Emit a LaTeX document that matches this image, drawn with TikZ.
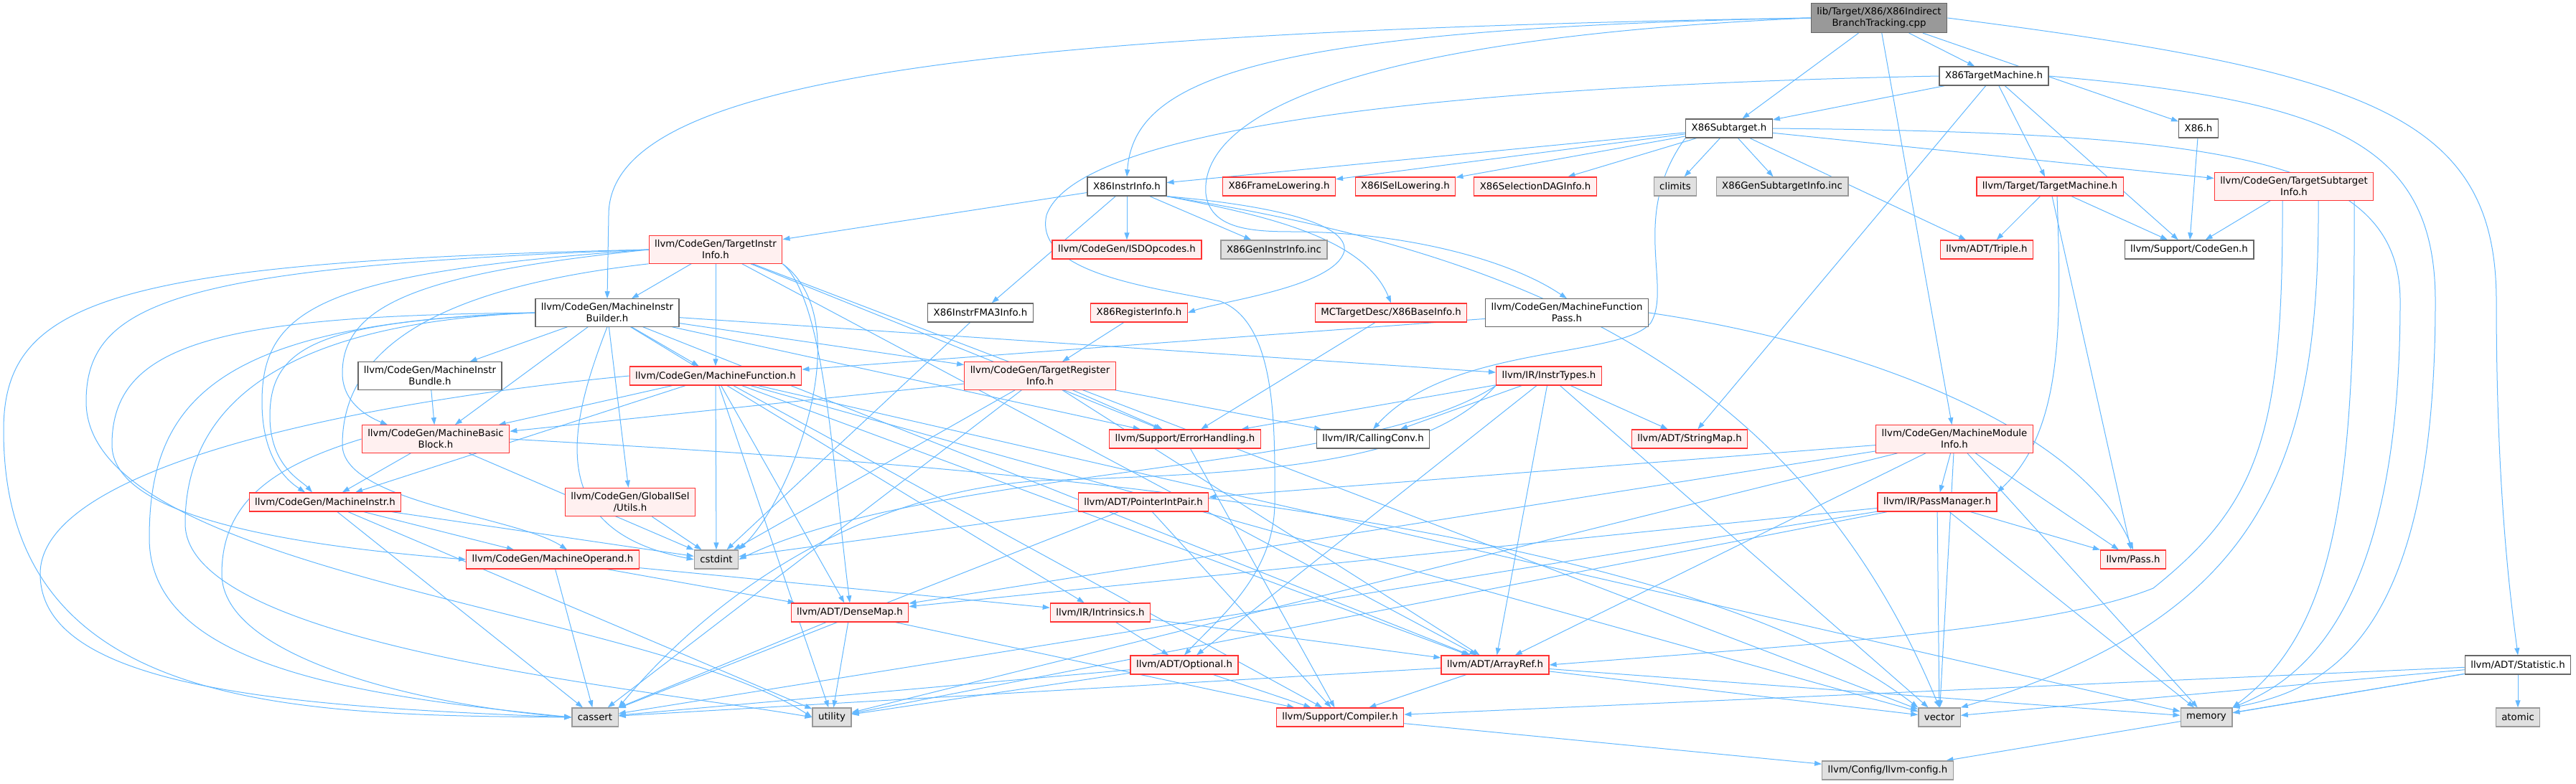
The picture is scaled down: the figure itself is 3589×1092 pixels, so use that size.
\documentclass[tikz,border=0pt]{standalone}
\usepackage{fontspec}
\setmainfont{DejaVu Sans}
\usepackage{xcolor}
\usepackage{tikz}
\usetikzlibrary{arrows.meta, backgrounds}

\definecolor{edgeblue}{HTML}{63B8FF}
\definecolor{truncred}{HTML}{FF3333}
\definecolor{truncfill}{HTML}{FFF0F0}
\definecolor{extfill}{HTML}{E0E0E0}
\definecolor{extline}{HTML}{999999}
\definecolor{rootfill}{HTML}{999999}
\definecolor{hdrline}{HTML}{666666}

\begin{document}
\begin{tikzpicture}[
  x=1pt, y=-1pt,
  file/.style={draw, line width=1.3pt, font=\fontsize{13.33}{16}\selectfont,
               align=center, inner xsep=8pt, inner ysep=6pt, minimum height=26pt},
  srcfile/.style={file, fill=rootfill, draw=hdrline},
  hdr/.style={file, fill=white, draw=hdrline},
  sys/.style={file, fill=extfill, draw=extline},
  trunc/.style={file, fill=truncfill, draw=truncred},
  dep/.style={-{Triangle[length=10pt,width=7pt]}, draw=edgeblue, line width=1pt}
]
  \useasboundingbox (0,0) rectangle (3589,1092);

  % files
  \node[srcfile] (root) at (2618,25) {lib/Target/X86/X86Indirect\\BranchTracking.cpp};
  \node[hdr]   (x86tm)    at (2778,106) {X86TargetMachine.h};
  \node[hdr]   (x86st)    at (2409,179) {X86Subtarget.h};
  \node[hdr]   (x86h)     at (3063,179) {X86.h};
  \node[hdr]   (iinfo)    at (1570,260) {X86InstrInfo.h};
  \node[trunc] (framelow) at (1782,260) {X86FrameLowering.h};
  \node[trunc] (isellow)  at (1958,260) {X86ISelLowering.h};
  \node[trunc] (seldag)   at (2139,260) {X86SelectionDAGInfo.h};
  \node[sys]   (climits)  at (2334,260) {climits};
  \node[sys]   (gensti)   at (2483,260) {X86GenSubtargetInfo.inc};
  \node[trunc] (tmach)    at (2856,260) {llvm/Target/TargetMachine.h};
  \node[trunc] (tsi)      at (3196,260) {llvm/CodeGen/TargetSubtarget\\Info.h};
  \node[trunc] (tii)      at (997,348)  {llvm/CodeGen/TargetInstr\\Info.h};
  \node[trunc] (isd)      at (1570,348) {llvm/CodeGen/ISDOpcodes.h};
  \node[sys]   (geninstr) at (1775,348) {X86GenInstrInfo.inc};
  \node[trunc] (triple)   at (2768,348) {llvm/ADT/Triple.h};
  \node[hdr]   (cgen)     at (3050,348) {llvm/Support/CodeGen.h};
  \node[hdr]   (mib)      at (846,436)  {llvm/CodeGen/MachineInstr\\Builder.h};
  \node[hdr]   (fma3)     at (1366,436) {X86InstrFMA3Info.h};
  \node[trunc] (reginfo)  at (1587,436) {X86RegisterInfo.h};
  \node[trunc] (baseinfo) at (1938,436) {MCTargetDesc/X86BaseInfo.h};
  \node[hdr]   (mfp)      at (2183,436) {llvm/CodeGen/MachineFunction\\Pass.h};
  \node[hdr]   (bundle)   at (599,524)  {llvm/CodeGen/MachineInstr\\Bundle.h};
  \node[trunc] (mfunc)    at (997,524)  {llvm/CodeGen/MachineFunction.h};
  \node[trunc] (tri)      at (1449,524) {llvm/CodeGen/TargetRegister\\Info.h};
  \node[trunc] (itypes)   at (2158,524) {llvm/IR/InstrTypes.h};
  \node[trunc] (mbb)      at (607,612)  {llvm/CodeGen/MachineBasic\\Block.h};
  \node[trunc] (errh)     at (1651,612) {llvm/Support/ErrorHandling.h};
  \node[hdr]   (callconv) at (1913,612) {llvm/IR/CallingConv.h};
  \node[trunc] (strmap)   at (2354,612) {llvm/ADT/StringMap.h};
  \node[trunc] (mmi)      at (2723,612) {llvm/CodeGen/MachineModule\\Info.h};
  \node[trunc] (minstr)   at (453,700)  {llvm/CodeGen/MachineInstr.h};
  \node[trunc] (gisel)    at (878,700)  {llvm/CodeGen/GlobalISel\\/Utils.h};
  \node[trunc] (pip)      at (1593,700) {llvm/ADT/PointerIntPair.h};
  \node[trunc] (passmgr)  at (2699,700) {llvm/IR/PassManager.h};
  \node[trunc] (mop)      at (770,780)  {llvm/CodeGen/MachineOperand.h};
  \node[sys]   (cstdint)  at (998,780)  {cstdint};
  \node[trunc] (passh)    at (2972,780) {llvm/Pass.h};
  \node[trunc] (densemap) at (1184,854) {llvm/ADT/DenseMap.h};
  \node[trunc] (intrin)   at (1533,854) {llvm/IR/Intrinsics.h};
  \node[trunc] (optional) at (1650,927) {llvm/ADT/Optional.h};
  \node[trunc] (arrayref) at (2083,927) {llvm/ADT/ArrayRef.h};
  \node[hdr]   (stat)     at (3508,927) {llvm/ADT/Statistic.h};
  \node[sys]   (cassert)  at (829,1000) {cassert};
  \node[sys]   (utility)  at (1159,1000) {utility};
  \node[trunc] (compiler) at (1867,1000) {llvm/Support/Compiler.h};
  \node[sys]   (vector)   at (2702,1000) {vector};
  \node[sys]   (memory)   at (3074,1000) {memory};
  \node[sys]   (atomic)   at (3508,1000) {atomic};
  \node[sys]   (llvmcfg)  at (2630,1074) {llvm/Config/llvm-config.h};

  \begin{scope}[on background layer]
  % source file
  \draw[dep] (root) -- (x86h);
  \draw[dep] (root) -- (x86st);
  \draw[dep] (root) -- (x86tm);
  \draw[dep] (root) -- (mmi);
  \draw[dep] (root.west) .. controls (1750,40) and (1580,110) .. (iinfo.north);
  \draw[dep] (root.west) .. controls (1300,45) and (848,120) .. (848,300) -- (mib.north);
  \draw[dep] (root.west) .. controls (1850,55) and (1672,170) .. (1680,270)
             .. controls (1686,318) and (1740,323) .. (1800,323)
             .. controls (1950,323) and (2100,360) .. (mfp.north);
  \draw[dep] (root.east) .. controls (3300,100) and (3478,160) .. (3478,420)
             .. controls (3478,700) and (3500,850) .. (stat.north);

  % X86 target headers
  \draw[dep] (x86tm) -- (x86st);
  \draw[dep] (x86tm) -- (strmap);
  \draw[dep] (x86tm) -- (tmach);
  \draw[dep] (x86tm) -- (cgen);
  \draw[dep] (x86tm.west) .. controls (2000,120) and (1500,180) .. (1458,300)
             .. controls (1440,380) and (1600,400) .. (1700,420)
             .. controls (1780,450) and (1776,600) .. (1776,700)
             .. controls (1776,800) and (1700,860) .. (optional.north);
  \draw[dep] (x86tm.east) .. controls (3250,140) and (3393,200) .. (3393,420)
             .. controls (3393,880) and (3250,960) .. (memory.north east);
  \draw[dep] (x86st) -- (iinfo);
  \draw[dep] (x86st) -- (framelow);
  \draw[dep] (x86st) -- (isellow);
  \draw[dep] (x86st) -- (seldag);
  \draw[dep] (x86st) -- (climits);
  \draw[dep] (x86st) -- (gensti);
  \draw[dep] (x86st) -- (triple);
  \draw[dep] (x86st) -- (tsi);
  \draw[dep] (x86st.south west) .. controls (2270,300) and (2330,400) .. (2300,450)
             .. controls (2260,500) and (2020,480) .. (callconv.north);
  \draw[dep] (x86st.east) .. controls (3100,185) and (3344,220) .. (3344,420)
             .. controls (3344,860) and (3200,950) .. (memory.north east);
  \draw[dep] (x86h) -- (cgen);
  \draw[dep] (iinfo) -- (tii);
  \draw[dep] (iinfo) -- (fma3);
  \draw[dep] (iinfo) -- (isd);
  \draw[dep] (iinfo) -- (geninstr);
  \draw[dep] (iinfo.south east) .. controls (1760,300) and (1900,330) .. (baseinfo.north);
  \draw[dep] (iinfo.south east) .. controls (1700,280) and (1880,300) .. (1873,350)
             .. controls (1860,400) and (1700,420) .. (reginfo.east);
  \draw[dep] (iinfo.south east) .. controls (2100,350) and (2500,500) .. (vector.north);
  \draw[dep] (tmach) -- (triple);
  \draw[dep] (tmach) -- (cgen);
  \draw[dep] (tmach) -- (passh);
  \draw[dep] ([xshift=10pt]tmach.south) .. controls (2872,450) and (2875,600) .. (passmgr.north east);
  \draw[dep] (tsi) -- (cgen);
  \draw[dep] ([xshift=-16pt]tsi.south) .. controls (3181,600) and (3150,700) .. (3000,820)
             .. controls (2850,880) and (2500,900) .. (arrayref.east);
  \draw[dep] ([xshift=34pt]tsi.south) .. controls (3232,650) and (3150,860) .. (vector.north east);
  \draw[dep] ([xshift=84pt]tsi.south) .. controls (3282,700) and (3250,880) .. (memory.north east);
  \draw[dep] (fma3) -- (cstdint);
  \draw[dep] (reginfo) -- (tri);
  \draw[dep] (baseinfo) -- (errh);
  \draw[dep] (mfp) -- (mfunc);
  \draw[dep] (mfp.east) .. controls (2600,480) and (2900,600) .. (passh.north);

  % TargetInstrInfo.h
  \draw[dep] (tii) -- (mib);
  \draw[dep] (tii) -- (mfunc);
  \draw[dep] (tii) -- (errh);
  \draw[dep] (tii) -- (arrayref);
  \draw[dep] (tii) -- (vector);
  \draw[dep] (tii.south east) .. controls (1150,420) and (1160,650) .. (densemap.north);
  \draw[dep] (tii.south east) .. controls (1200,450) and (1100,700) .. (cstdint.north east);
  \draw[dep] (tii.west) .. controls (600,380) and (477,420) .. (477,520)
             .. controls (477,560) and (510,580) .. ([xshift=-67pt]mbb.north);
  \draw[dep] (tii.west) .. controls (450,380) and (365,430) .. (365,560)
             .. controls (365,640) and (400,670) .. ([xshift=-28pt]minstr.north);
  \draw[dep] (tii.south west) .. controls (620,400) and (477,480) .. (477,620)
             .. controls (477,700) and (720,720) .. ([xshift=20pt]mop.north);
  \draw[dep] (tii.west) .. controls (150,365) and (5,420) .. (5,600)
             .. controls (5,990) and (400,997) .. (cassert.west);
  \draw[dep] (tii.west) .. controls (250,372) and (120,420) .. (120,560)
             .. controls (120,800) and (900,850) .. (utility.west);

  % MachineInstrBuilder.h
  \draw[dep] (mib) -- (bundle);
  \draw[dep] (mib) -- (mfunc);
  \draw[dep] (mib) -- (mbb);
  \draw[dep] (mib) -- (gisel);
  \draw[dep] (mib) -- (tri);
  \draw[dep] (mib) -- (itypes);
  \draw[dep] (mib) -- (intrin);
  \draw[dep] (mib) -- (errh);
  \draw[dep] (mib) -- (arrayref);
  \draw[dep] (mib.west) .. controls (450,448) and (376,480) .. (376,580)
             .. controls (376,650) and (420,670) .. ([xshift=-18pt]minstr.north);
  \draw[dep] (mib.west) .. controls (300,440) and (156,480) .. (156,620)
             .. controls (156,720) and (400,760) .. (mop.west);
  \draw[dep] (mib.west) .. controls (300,450) and (208,560) .. (208,750)
             .. controls (208,930) and (500,970) .. (cassert.west);
  \draw[dep] (mib.west) .. controls (400,450) and (258,560) .. (258,730)
             .. controls (258,900) and (900,960) .. (utility.west);
  \draw[dep] (mib.south) .. controls (790,600) and (760,740) .. (cstdint.west);

  % MachineFunction.h
  \draw[dep] (mfunc) -- (mbb);
  \draw[dep] (mfunc) -- (minstr);
  \draw[dep] (mfunc) -- (arrayref);
  \draw[dep] (mfunc) -- (densemap);
  \draw[dep] (mfunc) -- (compiler);
  \draw[dep] (mfunc) -- (cstdint);
  \draw[dep] (mfunc) -- (utility);
  \draw[dep] (mfunc) -- (memory);
  \draw[dep] (mfunc) -- (vector);
  \draw[dep] (mfunc.west) .. controls (500,560) and (56,650) .. (56,800)
             .. controls (56,960) and (400,985) .. (cassert.west);

  % TargetRegisterInfo.h, InstrTypes.h
  \draw[dep] (tri) -- (mbb);
  \draw[dep] (tri) -- (callconv);
  \draw[dep] (tri) -- (errh);
  \draw[dep] (tri) -- (arrayref);
  \draw[dep] (tri) -- (cassert);
  \draw[dep] (tri) -- (cstdint);
  \draw[dep] (itypes) -- (errh);
  \draw[dep] (itypes) -- (callconv);
  \draw[dep] (itypes) -- (strmap);
  \draw[dep] (itypes) -- (optional);
  \draw[dep] (itypes) -- (arrayref);
  \draw[dep] (itypes) -- (vector);
  \draw[dep] (itypes.south west) .. controls (1980,650) and (1750,660) .. (1450,670)
             .. controls (1150,690) and (950,880) .. (cassert.north east);
  \draw[dep] (itypes.south west) .. controls (1900,660) and (1300,650) .. (cstdint.east);

  % MachineBasicBlock.h, MachineInstrBundle.h
  \draw[dep] (bundle) -- (mbb);
  \draw[dep] (mbb) -- (minstr);
  \draw[dep] (mbb) -- (cstdint);
  \draw[dep] (mbb.east) .. controls (1200,640) and (2300,700) .. (vector.north west);
  \draw[dep] (mbb.west) .. controls (380,650) and (309,700) .. (309,800)
             .. controls (309,920) and (600,985) .. (cassert.west);

  % MachineModuleInfo.h
  \draw[dep] (mmi) -- (pip);
  \draw[dep] (mmi) -- (densemap);
  \draw[dep] (mmi) -- (passmgr);
  \draw[dep] (mmi) -- (passh);
  \draw[dep] (mmi) -- (arrayref);
  \draw[dep] (mmi) -- (memory);
  \draw[dep] (mmi) -- (utility);
  \draw[dep] (mmi) -- (vector);

  % lower layers
  \draw[dep] (minstr) -- (mop);
  \draw[dep] (minstr) -- (cassert);
  \draw[dep] (minstr) -- (cstdint);
  \draw[dep] (minstr) -- (utility);
  \draw[dep] (gisel) -- (cstdint);
  \draw[dep] (pip) -- (compiler);
  \draw[dep] (pip) -- (cassert);
  \draw[dep] (pip) -- (cstdint);
  \draw[dep] (passmgr) -- (densemap);
  \draw[dep] (passmgr) -- (passh);
  \draw[dep] (passmgr) -- (cassert);
  \draw[dep] (passmgr) -- (memory);
  \draw[dep] (passmgr) -- (utility);
  \draw[dep] (passmgr) -- (vector);
  \draw[dep] (mop) -- (densemap);
  \draw[dep] (mop) -- (intrin);
  \draw[dep] (mop) -- (cassert);
  \draw[dep] (densemap) -- (compiler);
  \draw[dep] (densemap) -- (cassert);
  \draw[dep] (densemap) -- (utility);
  \draw[dep] (intrin) -- (optional);
  \draw[dep] (intrin) -- (arrayref);
  \draw[dep] (optional) -- (compiler);
  \draw[dep] (optional) -- (cassert);
  \draw[dep] (optional) -- (utility);
  \draw[dep] (arrayref) -- (compiler);
  \draw[dep] (arrayref) -- (cassert);
  \draw[dep] (arrayref) -- (memory);
  \draw[dep] (arrayref) -- (vector);
  \draw[dep] (errh) -- (compiler);
  \draw[dep] (compiler) -- (llvmcfg);
  \draw[dep] (stat) -- (compiler);
  \draw[dep] (stat) -- (vector);
  \draw[dep] (stat) -- (memory);
  \draw[dep] (stat) -- (llvmcfg);
  \draw[dep] (stat) -- (atomic);
  \end{scope}
\end{tikzpicture}
\end{document}
